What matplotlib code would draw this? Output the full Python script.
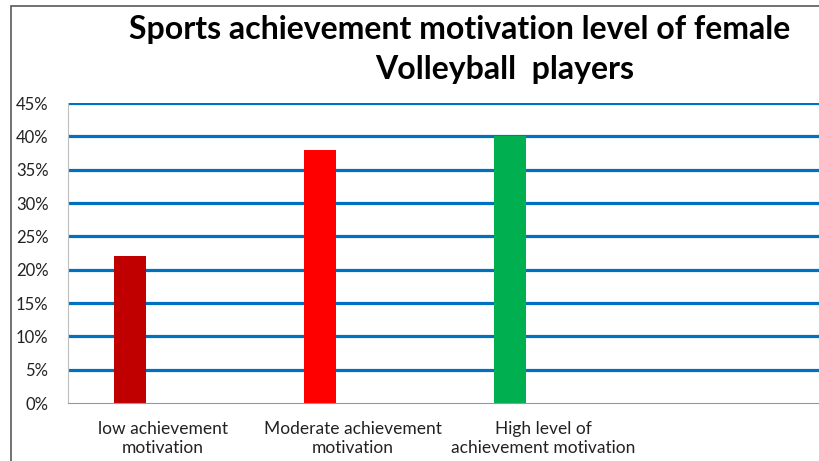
import matplotlib.pyplot as plt
from matplotlib.patches import Rectangle
from matplotlib.ticker import PercentFormatter

# Chart data
categories = ['low achievement\nmotivation', 'Moderate achievement\nmotivation',
              'High level of\nachievement motivation', '']
values = [22, 38, 40]
bar_colors = ['#C00000', '#FF0000', '#00B050']
y_ticks = [0, 5, 10, 15, 20, 25, 30, 35, 40, 45]

plt.rcParams['font.family'] = ['Lato', 'DejaVu Sans']

fig = plt.figure(figsize=(8.2, 4.61), dpi=100)
ax = fig.add_axes([68 / 820, 58 / 461, 760 / 820, 300 / 461])

# bars sit a little left of the category centre (like the original Excel chart)
offset = -33 / 190
for i, v in enumerate(values):
    ax.bar(i + offset, v, width=0.168, color=bar_colors[i], zorder=3)

ax.set_xlim(-0.5, len(categories) - 0.5)
ax.set_ylim(0, 45)
ax.set_yticks(y_ticks)
ax.yaxis.set_major_formatter(PercentFormatter(decimals=0))
ax.tick_params(axis='y', length=0, pad=14, labelsize=12, colors='#222222')
ax.set_xticks(range(len(categories)))
ax.set_xticklabels(categories, fontsize=12.5, color='#222222', linespacing=1.25)
ax.tick_params(axis='x', length=0, pad=13)

for y in y_ticks[1:]:
    ax.axhline(y, color='#0070C0', lw=2.3, zorder=1)

for s in ['top', 'right']:
    ax.spines[s].set_visible(False)
ax.spines['left'].set_color('#BFBFBF')
ax.spines['bottom'].set_color('#A08CC0')
ax.spines['bottom'].set_zorder(4)

# title, two lines
fig.text(460 / 820, 1 - 30 / 461, 'Sports achievement motivation level of female',
         ha='center', va='center', fontsize=23, fontweight='bold')
fig.text(505 / 820, 1 - 69 / 461, 'Volleyball  players',
         ha='center', va='center', fontsize=23, fontweight='bold')

# chart frame (partially cropped)
fig.patches.append(Rectangle((11 / 820, -0.1), 1.0, 1 - 6 / 461 + 0.1,
                             transform=fig.transFigure, fill=False,
                             edgecolor='#595959', lw=1.2))

fig.savefig('out.png', dpi=100)
